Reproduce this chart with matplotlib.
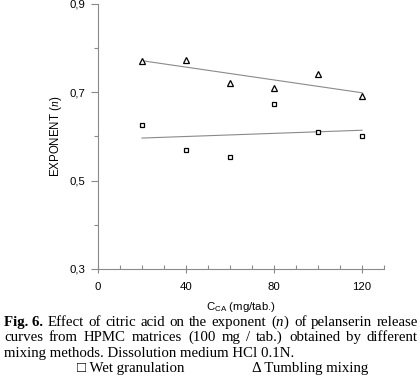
import matplotlib
matplotlib.use("Agg")
import matplotlib.pyplot as plt
from matplotlib.ticker import MultipleLocator, FixedLocator
import numpy as np

# citric acid content (mg/tab.)
c_ca = [20, 40, 60, 80, 100, 120]
# release exponent n
n_wet = [0.625, 0.569, 0.553, 0.674, 0.610, 0.601]
n_tumbling = [0.772, 0.774, 0.722, 0.710, 0.742, 0.692]

x_major = [0, 40, 80, 120]
y_major = [0.3, 0.5, 0.7, 0.9]
y_major_labels = ["0,3", "0,5", "0,7", "0,9"]

caption_lines = [
    ["Fig. 6.", "Effect", "of", "citric", "acid", "on", "the", "exponent", "($\\mathit{n}$)",
     "of", "pelanserin", "release"],
    ["curves", "from", "HPMC", "matrices", "(100", "mg", "/", "tab.)", "obtained", "by", "different"],
]
caption_last = "mixing methods. Dissolution medium HCl 0.1N."

plt.rcParams["mathtext.fontset"] = "custom"
plt.rcParams["mathtext.it"] = "Liberation Serif:italic"
plt.rcParams["mathtext.rm"] = "Liberation Serif"
plt.rcParams["mathtext.sf"] = "Liberation Sans"

W, H = 420, 388
fig = plt.figure(figsize=(W / 100, H / 100), dpi=100)
ax = fig.add_axes([98 / W, 1 - 269 / H, (384 - 98) / W, (269 - 4) / H])

gray = "#8a8a8a"
x = np.array(c_ca)
for ys, mk, ms in [(n_wet, "s", 3.2), (n_tumbling, "^", 4.0)]:
    k, b = np.polyfit(x, ys, 1)
    ax.plot(x[[0, -1]], k * x[[0, -1]] + b, color=gray, lw=0.8, zorder=1)
    ax.plot(x, ys, ls="none", marker=mk, ms=ms, mfc="white", mec="black", mew=0.9, zorder=2)

ax.set_xlim(0, 130)
ax.set_ylim(0.3, 0.9)
for s in ["top", "right"]:
    ax.spines[s].set_visible(False)
for s in ["left", "bottom"]:
    ax.spines[s].set_color(gray)
    ax.spines[s].set_linewidth(0.8)

ax.xaxis.set_major_locator(FixedLocator(x_major))
ax.xaxis.set_minor_locator(FixedLocator([v for v in range(10, 131, 10) if v not in x_major]))
ax.set_xticklabels([str(v) for v in x_major])
ax.yaxis.set_major_locator(FixedLocator(y_major))
ax.set_yticklabels(y_major_labels)
ax.yaxis.set_minor_locator(MultipleLocator(0.1))
ax.tick_params(axis="x", which="major", direction="inout", length=6, width=0.8, color=gray, pad=6)
ax.tick_params(axis="x", which="minor", direction="in", length=3, width=0.8, color=gray)
ax.tick_params(axis="y", which="major", direction="out", length=5, width=0.8, color=gray, pad=4)
ax.tick_params(axis="y", which="minor", direction="out", length=3, width=0.8, color=gray)
for lab in ax.get_xticklabels() + ax.get_yticklabels():
    lab.set_fontfamily("Liberation Sans")
    lab.set_fontsize(8.2)

ax.set_ylabel("EXPONENT ($\\mathit{n}$)", family="Liberation Sans", fontsize=8.3)
ax.set_xlabel("C$_{\\mathsf{CA}}$ (mg/tab.)", family="Liberation Sans", fontsize=8.2)
ax.yaxis.set_label_coords(-34 / 286, 0.5)
ax.xaxis.set_label_coords(0.5, -31 / 265)

# caption, justified to the page width
fs = 10.7
renderer = fig.canvas.get_renderer()
x0, x1 = 4, 418
for i, words in enumerate(caption_lines):
    yb = 1 - (326 + 15.3 * i) / H
    items = []
    for j, w in enumerate(words):
        t = fig.text(0, yb, w, family="Liberation Serif", fontsize=fs, va="baseline",
                     weight="bold" if (i == 0 and j == 0) else "normal")
        items.append(t)
    widths = [t.get_window_extent(renderer).width for t in items]
    gap = (x1 - x0 - sum(widths)) / (len(items) - 1)
    pos = x0
    for t, wd in zip(items, widths):
        t.set_x(pos / W)
        pos += wd + gap
fig.text(x0 / W, 1 - (326 + 15.3 * 2) / H, caption_last, family="Liberation Serif",
         fontsize=fs, va="baseline")
fig.text(77 / W, 1 - 372 / H, "\u25a1 Wet granulation", family=["Liberation Serif", "DejaVu Serif"],
         fontsize=fs, va="baseline")
fig.text(252 / W, 1 - 372 / H, "\u0394 Tumbling mixing", family=["Liberation Serif", "DejaVu Serif"],
         fontsize=fs, va="baseline")

fig.savefig("out.png", dpi=100)
